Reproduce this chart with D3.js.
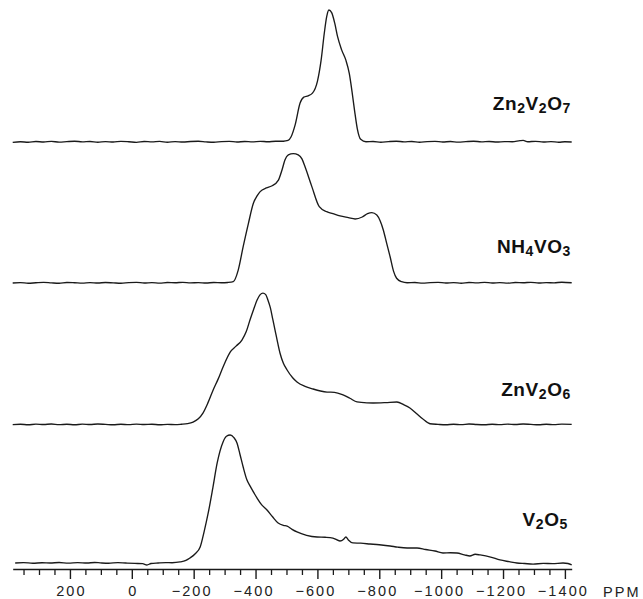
<!DOCTYPE html>
<html>
<head>
<meta charset="utf-8">
<script src="https://cdn.jsdelivr.net/npm/d3@7"></script>
<style>
  html, body { margin: 0; padding: 0; background: #fff; }
  svg { display: block; }
  .tick text { font-family: "Liberation Sans", Arial, sans-serif; }
</style>
</head>
<body>
<svg id="chart" width="643" height="599"></svg>
<script>
// 51V MAS NMR spectra: chemical shift (ppm) vs relative intensity (peak ~ 100)
const compounds = ["Zn2V2O7", "NH4VO3", "ZnV2O6", "V2O5"];

const zn2v2o7 = [
  [385,-0.3],[360,0.2],[335,-0.2],[310,0.4],[285,0.0],[260,0.5],[235,-0.1],[210,0.3],
  [185,0.6],[160,0.1],[135,0.4],[110,-0.2],[85,0.3],[60,0.0],[35,0.5],[10,0.2],
  [-15,-0.3],[-40,0.4],[-65,0.1],[-90,0.5],[-115,-0.2],[-140,0.3],[-165,0.0],[-190,0.4],
  [-215,0.6],[-240,0.1],[-265,-0.2],[-290,0.3],[-315,0.5],[-340,0.0],[-365,0.4],[-390,0.1],
  [-415,0.5],[-440,0.2],[-465,0.6],[-490,0.6],[-505,1.2],[-515,4],[-528,13],[-544,29.5],
  [-556,34],[-570,35],[-584,37],[-600,46],[-612,62],[-622,82],[-630,95],[-637,100],
  [-646,98],[-656,90],[-665,80],[-678,70],[-692,62],[-703,52],[-712,38],[-720,24],
  [-729,10],[-740,2],[-757,0.2],[-780,0.4],[-805,-0.2],[-830,0.3],[-855,0.6],[-880,0.1],
  [-905,0.4],[-930,-0.2],[-955,0.3],[-980,0.5],[-1005,0.0],[-1030,0.4],[-1055,-0.1],
  [-1080,0.3],[-1105,0.6],[-1130,0.1],[-1155,0.4],[-1180,0.0],[-1205,0.3],[-1230,0.2],
  [-1255,1.0],[-1265,1.2],[-1280,0.2],[-1305,0.5],[-1330,0.0],[-1355,0.3],[-1380,-0.2],
  [-1400,0.2],[-1422,0.0]
];

const nh4vo3 = [
  [385,0.0],[360,0.3],[335,-0.2],[310,0.2],[285,0.5],[260,0.1],[235,-0.2],[210,0.4],
  [185,0.2],[160,-0.1],[135,0.3],[110,0.0],[85,0.4],[60,0.1],[35,-0.2],[10,0.3],
  [-15,0.5],[-40,0.0],[-65,0.3],[-90,-0.1],[-115,0.4],[-140,0.2],[-165,0.5],[-190,0.1],
  [-215,0.3],[-240,0.0],[-265,0.4],[-290,0.2],[-310,0.4],[-328,1.0],[-344,9.8],
  [-360,27.5],[-377,45.2],[-393,60.4],[-405,66],[-415,69.2],[-435,72],[-452,73.5],
  [-474,78],[-486,86],[-495,93.2],[-506,97],[-522,98],[-538,97],[-550,94],[-560,88],
  [-582,73],[-606,57.8],[-630,54],[-650,52.5],[-673,50.8],[-700,49.5],[-722,48.5],
  [-745,50],[-762,52.5],[-776,53.3],[-792,51.5],[-803,47],[-813,40.2],[-824,30],
  [-835,19.9],[-846,9],[-856,3.6],[-872,1.0],[-890,0.2],[-915,0.4],[-940,-0.1],
  [-965,0.3],[-990,0.5],[-1015,0.0],[-1040,0.3],[-1065,-0.2],[-1090,0.4],[-1115,0.1],
  [-1140,0.5],[-1165,0.0],[-1190,0.3],[-1215,-0.1],[-1240,0.4],[-1265,0.2],[-1290,0.5],
  [-1315,0.0],[-1340,0.3],[-1365,0.1],[-1390,0.6],[-1422,0.2]
];

const znv2o6 = [
  [385,-0.5],[360,-0.2],[335,-0.6],[310,-0.1],[285,-0.4],[260,0.0],[235,-0.5],[210,-0.2],
  [185,-0.6],[160,-0.1],[135,-0.4],[110,0.0],[85,-0.3],[60,-0.6],[35,-0.2],[10,-0.5],
  [-15,-0.1],[-40,-0.4],[-65,-0.2],[-90,-0.6],[-115,-0.3],[-140,-0.5],[-160,-0.2],
  [-180,0.3],[-198,1.5],[-215,4],[-230,8.3],[-246,16],[-263,25.8],[-279,34],[-295,43.2],
  [-318,54.5],[-337,59],[-356,63.6],[-370,70],[-382,78.8],[-394,87],[-405,93.9],
  [-415,98],[-424,99.2],[-433,98],[-440,93.9],[-448,88],[-456,79],[-463,71.2],
  [-472,61],[-479,53.8],[-490,46],[-502,40.9],[-520,35],[-534,31.8],[-560,28.5],
  [-586,26.5],[-610,25],[-631,24.2],[-655,24],[-683,22],[-705,19.5],[-728,16.7],
  [-760,16],[-780,15.9],[-820,16.2],[-857,16.7],[-880,14.5],[-899,12.1],[-920,8],
  [-940,4],[-964,0.2],[-990,-0.3],[-1015,-0.6],[-1040,-0.2],[-1065,-0.5],[-1090,0.0],
  [-1115,-0.4],[-1140,-0.6],[-1165,-0.2],[-1190,-0.5],[-1215,-0.1],[-1240,-0.4],
  [-1265,0.0],[-1290,-0.3],[-1315,-0.6],[-1340,-0.2],[-1365,-0.5],[-1390,-0.1],[-1422,-0.3]
];

const v2o5 = [
  [377,0.0],[350,0.3],[320,-0.2],[290,0.2],[264,0.0],[235,0.4],[205,-0.1],[175,0.3],
  [145,0.0],[120,0.4],[102,0.1],[75,-0.2],[45,0.3],[20,0.0],[-10,-0.3],[-35,-0.5],
  [-49,-1.5],[-62,-0.4],[-85,0.0],[-110,0.3],[-130,0.2],[-156,0.8],[-175,2],[-188,3.8],
  [-205,7],[-221,12.1],[-234,24],[-247,37.9],[-262,57],[-276,75.8],[-295,91.7],
  [-306,96],[-318,97],[-330,95],[-340,90.9],[-350,82],[-360,72.7],[-372,63],[-383,58],
  [-405,49.2],[-420,44],[-437,40.2],[-455,35],[-473,30.3],[-490,28.5],[-502,28],
  [-518,25.5],[-534,23.5],[-565,21],[-599,19.7],[-625,19.5],[-650,18.9],[-673,16.7],
  [-685,18],[-692,19.7],[-700,17.5],[-715,15.2],[-740,15],[-770,14.4],[-800,13.8],
  [-835,12.9],[-860,12],[-890,11.4],[-922,11.4],[-950,10.2],[-980,9.1],[-1006,7.6],
  [-1030,7.8],[-1051,7.6],[-1075,6.2],[-1093,5.3],[-1110,6.6],[-1126,6.1],[-1160,4.5],
  [-1190,2.3],[-1220,1.0],[-1245,0.0],[-1270,-0.4],[-1297,-0.8],[-1330,-0.3],[-1360,-0.5],
  [-1394,0.0],[-1410,-0.4],[-1422,-1.5]
];

const spectra = [zn2v2o7, nh4vo3, znv2o6, v2o5];

// Axis ticks (ppm)
const majorTicks = [200, 0, -200, -400, -600, -800, -1000, -1200, -1400];
const minorTicks = [350, 300, 250, 150, 100, 50, -50, -100, -150, -250, -300, -350,
  -450, -500, -550, -650, -700, -750, -850, -900, -950, -1050, -1100, -1150,
  -1250, -1300, -1350];
const unitLabel = "PPM";

// ---- layout ----
const svg = d3.select("#chart");
const ink = "#1a1a1a";
const axisY = 569;
const baselines = [142, 283, 424, 563];
const labelPos = [[571, 110], [571, 253], [571, 396], [568, 526]];
const pxPerUnit = 1.32;

const x = d3.scaleLinear().domain([385, -1422]).range([12.7, 571.7]);

const line = d3.line().curve(d3.curveMonotoneX);

spectra.forEach((data, i) => {
  const y = d3.scaleLinear().domain([0, 100]).range([baselines[i], baselines[i] - 100 * pxPerUnit]);
  line.x(d => x(d[0])).y(d => y(d[1]));
  svg.append("path")
    .datum(data)
    .attr("fill", "none")
    .attr("stroke", ink)
    .attr("stroke-width", 1.35)
    .attr("stroke-linejoin", "round")
    .attr("d", line);
});

// compound labels: digits rendered as subscripts
compounds.forEach((name, i) => {
  const t = svg.append("text")
    .attr("x", labelPos[i][0])
    .attr("y", labelPos[i][1])
    .attr("text-anchor", "end")
    .attr("font-family", "'Liberation Sans', Arial, sans-serif")
    .attr("font-weight", "bold")
    .attr("font-size", 19)
    .attr("letter-spacing", 0.6)
    .attr("fill", "#111");
  let shifted = false;
  name.match(/[A-Za-z]+|\d+/g).forEach(part => {
    const isSub = /\d/.test(part);
    const dy = isSub ? (shifted ? 0 : 3) : (shifted ? -3 : 0);
    t.append("tspan")
      .attr("font-size", isSub ? 14 : 19)
      .attr("dy", dy)
      .text(part);
    shifted = isSub;
  });
});

// x axis
const axisMajor = d3.axisBottom(x)
  .tickValues(majorTicks)
  .tickSize(10)
  .tickSizeOuter(0)
  .tickPadding(7)
  .tickFormat(d3.format("d"));

const gAxis = svg.append("g").attr("transform", `translate(0,${axisY})`).call(axisMajor);
gAxis.select(".domain").attr("stroke", ink).attr("stroke-width", 1.6);
gAxis.selectAll(".tick line").attr("stroke", ink).attr("stroke-width", 1.4);
gAxis.selectAll(".tick text")
  .attr("fill", "#222")
  .attr("font-size", 14.5)
  .attr("letter-spacing", 2.1)
  .attr("dx", d => d < 0 ? -2 : 1)
  .attr("dy", "0.71em");

const axisMinor = d3.axisBottom(x)
  .tickValues(minorTicks)
  .tickSize(6)
  .tickSizeOuter(0)
  .tickFormat("");
const gMinor = svg.append("g").attr("transform", `translate(0,${axisY})`).call(axisMinor);
gMinor.select(".domain").remove();
gMinor.selectAll(".tick line").attr("stroke", ink).attr("stroke-width", 1.3);

svg.append("text")
  .attr("x", 603)
  .attr("y", 597)
  .attr("font-family", "'Liberation Sans', Arial, sans-serif")
  .attr("font-size", 14.5)
  .attr("letter-spacing", 2.1)
  .attr("fill", "#222")
  .text(unitLabel);
</script>
</body>
</html>
